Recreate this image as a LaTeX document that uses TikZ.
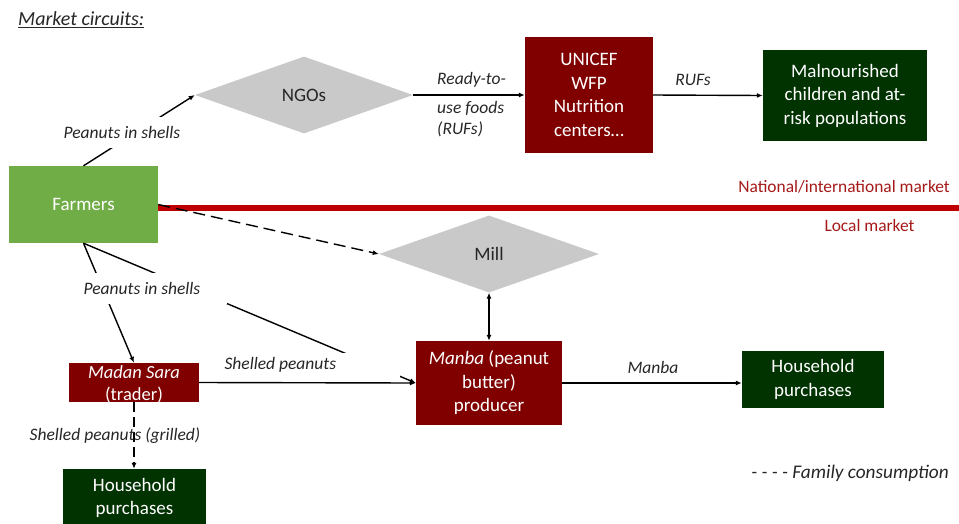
\documentclass[tikz,border=0pt]{standalone}
\usepackage{fontspec}
\setmainfont{Carlito}
\usetikzlibrary{shapes.geometric,arrows.meta}
\definecolor{boxred}{RGB}{128,0,0}
\definecolor{boxgreen}{RGB}{0,51,0}
\definecolor{farmgreen}{RGB}{112,173,71}
\definecolor{diagray}{RGB}{201,201,201}
\definecolor{lineRed}{RGB}{192,0,0}
\definecolor{mktred}{RGB}{165,25,25}
\definecolor{txt}{RGB}{38,38,38}
\begin{document}
\begin{tikzpicture}[x=1pt,y=-1pt,
  >={Latex[length=6pt,width=5pt]},
  box/.style={rectangle, inner sep=0pt, align=center, text=white, font=\fontsize{19}{23.5}\selectfont},
  redbox/.style={box, fill=boxred},
  greenbox/.style={box, fill=boxgreen},
  dia/.style={diamond, fill=diagray, inner sep=0pt, text=txt, font=\fontsize{19}{23}\selectfont},
  lbl/.style={font=\fontsize{17.5}{21}\selectfont\itshape, text=txt, inner sep=0pt, align=left},
  mkt/.style={font=\fontsize{17.4}{21}\selectfont, text=mktred, inner sep=0pt},
  conn/.style={line width=1.4pt, draw=black, ->},
]
\useasboundingbox (0,0) rectangle (959,523);

% title
\node[anchor=west, font=\fontsize{20}{24}\selectfont\itshape, text=txt, inner sep=0pt] (title) at (18,20) {\underline{Market circuits:}};

% nodes
\node[dia, minimum width=218pt, minimum height=77pt] (ngo) at (304,95) {NGOs};
\node[redbox, minimum width=128pt, minimum height=116pt] (unicef) at (589,95) {UNICEF\\WFP\\Nutrition\\centers…};
\node[greenbox, minimum width=164pt, minimum height=91pt] (maln) at (845,95.5) {Malnourished\\children and at-\\risk populations};
\node[box, fill=farmgreen, minimum width=149pt, minimum height=77pt] (farm) at (83.5,204.5) {Farmers};
\node[dia, minimum width=220pt, minimum height=77pt] (mill) at (489,254) {Mill};
\node[redbox, minimum width=146pt, minimum height=84pt] (manba) at (489,383) {\textit{Manba} (peanut\\butter)\\producer};
\node[greenbox, minimum width=142pt, minimum height=57pt] (hhr) at (813,379.5) {Household\\purchases};
\node[redbox, minimum width=130pt, minimum height=39pt] (madan) at (134,382.5) {};
\node[box, font=\fontsize{18.5}{22}\selectfont] (madantext) at (134,384) {\textit{Madan Sara}\\(trader)};
\node[greenbox, minimum width=143pt, minimum height=58pt] (hhl) at (134.5,498) {Household\\purchases};

% market separation
\coordinate (redend) at (959,208);
\draw[lineRed, line width=6pt] (farm.east |- redend) -- (redend);
\node[mkt, anchor=east] (nat) at (950,187) {National/international market};
\node[mkt] (loc) at (869.5,226) {Local market};

% connectors
\draw[conn] (farm.north) -- (ngo.west);
\draw[conn] (ngo.east) -- (unicef.west);
\draw[conn] (unicef.east) -- (maln.west);
\draw[conn, dash pattern=on 12pt off 6pt] (farm.east) -- (mill.west);
\draw[conn] (farm.south) -- (madan.north);
\draw[conn] (farm.south) -- (manba.west);
\draw[conn] (madan.east) -- (manba.west);
\draw[line width=1.4pt, <->] (mill.south) -- (manba.north);
\draw[conn] (manba.east) -- (manba.east -| hhr.west);
\draw[conn, dash pattern=on 10pt off 5pt] (madan.south) -- (madan.south |- hhl.north);

% labels
\node[lbl, fill=white, minimum width=125pt, minimum height=31pt, align=center] (l1) at (122,132.5) {Peanuts in shells};
\node[lbl, fill=white, minimum width=170pt, minimum height=31pt, align=center] (l2) at (142,288.5) {Peanuts in shells};
\node[lbl, fill=white, text width=167pt, inner xsep=8pt, minimum height=25pt, align=flush left] (l3) at (308,365) {Shelled peanuts};
\node[lbl, anchor=west] (rtu1) at (437,80) {Ready-to-};
\node[lbl, anchor=west] (rtu2) at (437,119.5) {use foods\\(RUFs)};
\node[lbl] (rufs) at (693,80) {RUFs};
\node[lbl] (lmanba) at (653,367) {Manba};
\node[lbl] (lgrill) at (115,436) {Shelled peanuts (grilled)};
\node[lbl, anchor=east, font=\fontsize{19.3}{23}\selectfont\itshape] (legend) at (949,473) {- - - - Family consumption};
\end{tikzpicture}
\end{document}
